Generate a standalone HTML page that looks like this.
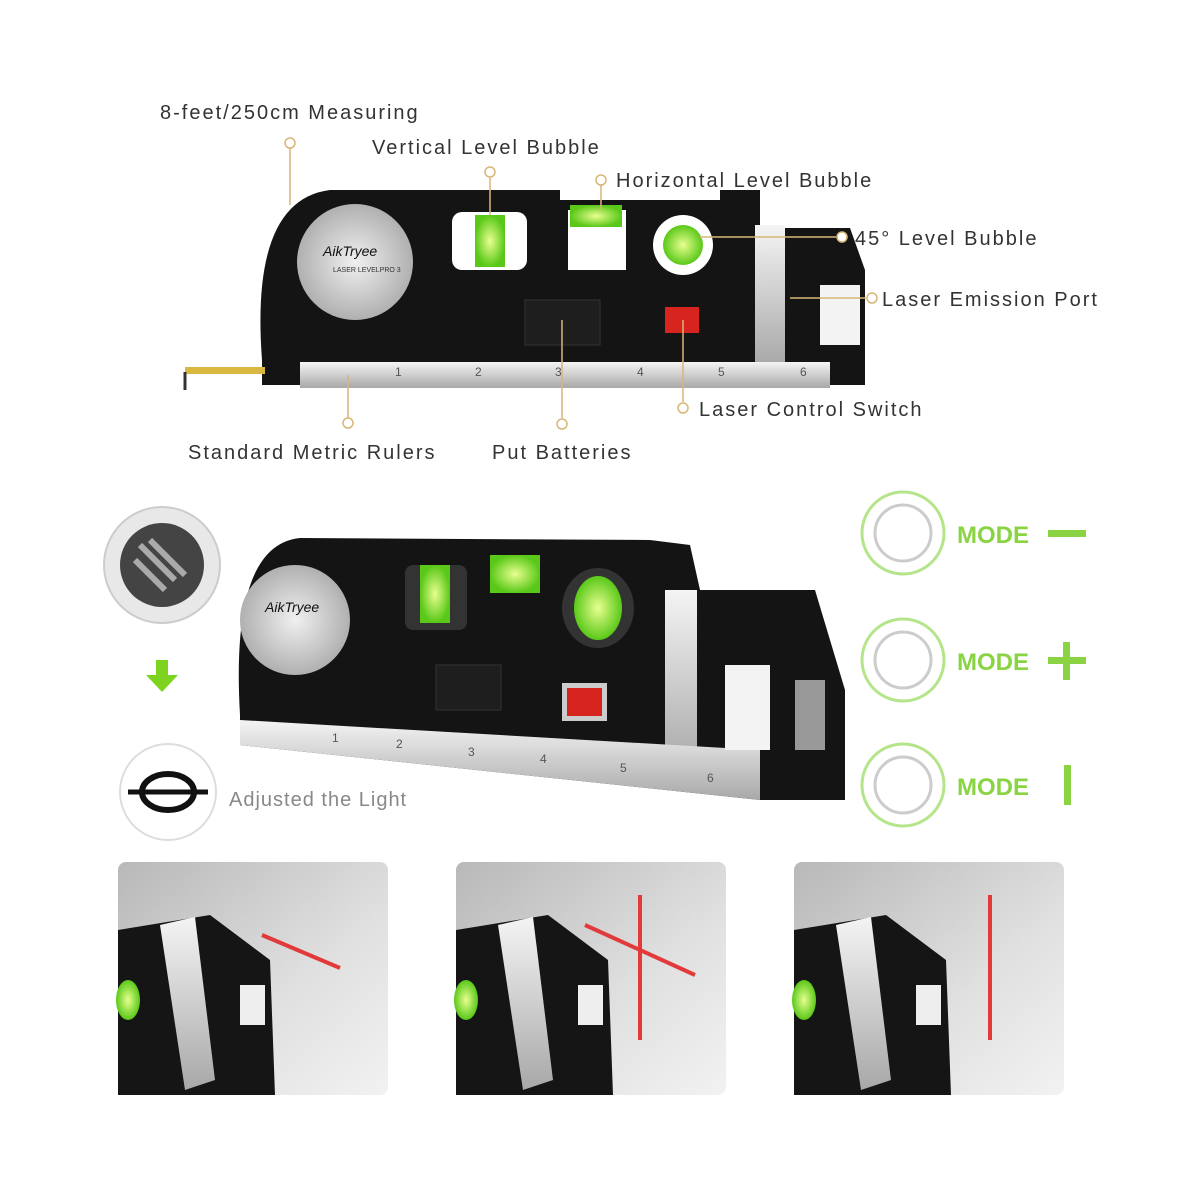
<!DOCTYPE html>
<html><head><meta charset="utf-8"><style>
html,body{margin:0;padding:0;background:#fff}
svg{display:block}
text{font-family:"Liberation Sans",sans-serif}
</style></head><body>
<svg width="1200" height="1200" viewBox="0 0 1200 1200" xmlns="http://www.w3.org/2000/svg">
<defs>
<linearGradient id="bg" x1="0" y1="0" x2="1" y2="1"><stop offset="0" stop-color="#b8b8b8"/><stop offset="0.6" stop-color="#e0e0e0"/><stop offset="1" stop-color="#f2f2f2"/></linearGradient>
<linearGradient id="sil" x1="0" y1="0" x2="0" y2="1"><stop offset="0" stop-color="#f4f4f4"/><stop offset="1" stop-color="#a8a8a8"/></linearGradient>
<radialGradient id="disc"><stop offset="0" stop-color="#f0f0f0"/><stop offset="1" stop-color="#b0b0b0"/></radialGradient>
<radialGradient id="grn"><stop offset="0" stop-color="#e8ff90"/><stop offset="1" stop-color="#5ac818"/></radialGradient>
</defs>
<g>
<path d="M262 360 Q250 200 330 190 L560 190 L560 200 L720 200 L720 190 L760 190 L760 228 L850 228 L865 270 L865 385 L262 385 Z" fill="#141414"/>
<rect x="755" y="225" width="30" height="140" fill="url(#sil)"/>
<rect x="300" y="362" width="530" height="26" fill="url(#sil)"/>
<g fill="#555" font-size="12"><text x="395" y="376">1</text><text x="475" y="376">2</text><text x="555" y="376">3</text><text x="637" y="376">4</text><text x="718" y="376">5</text><text x="800" y="376">6</text></g>
<circle cx="355" cy="262" r="58" fill="url(#disc)"/>
<text x="323" y="256" font-size="14" font-style="italic" fill="#111">AikTryee</text>
<text x="333" y="272" font-size="7" fill="#333">LASER LEVELPRO 3</text>
<rect x="452" y="212" width="75" height="58" rx="10" fill="#fff"/>
<rect x="475" y="215" width="30" height="52" fill="url(#grn)"/>
<rect x="568" y="210" width="58" height="60" fill="#fff"/>
<rect x="570" y="205" width="52" height="22" fill="url(#grn)"/>
<circle cx="683" cy="245" r="30" fill="#fff"/>
<circle cx="683" cy="245" r="20" fill="url(#grn)"/>
<rect x="525" y="300" width="75" height="45" fill="#1e1e1e" stroke="#333"/>
<rect x="665" y="307" width="34" height="26" fill="#d8241e"/>
<rect x="820" y="285" width="40" height="60" fill="#f3f3f3"/>
<rect x="185" y="367" width="80" height="7" fill="#d8b840"/>
<path d="M185 372 L185 390" stroke="#333" stroke-width="3"/>
</g>
<g stroke="#d9b677" stroke-width="1.5" fill="#fff">
<line x1="290" y1="148" x2="290" y2="205"/><circle cx="290" cy="143" r="5"/>
<line x1="490" y1="178" x2="490" y2="215"/><circle cx="490" cy="172" r="5"/>
<line x1="601" y1="185" x2="601" y2="210"/><circle cx="601" cy="180" r="5"/>
<line x1="700" y1="237" x2="836" y2="237"/><circle cx="842" cy="237" r="5"/>
<line x1="790" y1="298" x2="866" y2="298"/><circle cx="872" cy="298" r="5"/>
<line x1="683" y1="320" x2="683" y2="402"/><circle cx="683" cy="408" r="5"/>
<line x1="348" y1="375" x2="348" y2="418"/><circle cx="348" cy="423" r="5"/>
<line x1="562" y1="320" x2="562" y2="418"/><circle cx="562" cy="424" r="5"/>
</g>
<g font-size="20" fill="#333" letter-spacing="2">
<text x="160" y="119">8-feet/250cm Measuring</text>
<text x="372" y="154">Vertical Level Bubble</text>
<text x="616" y="187">Horizontal Level Bubble</text>
<text x="855" y="245">45° Level Bubble</text>
<text x="882" y="306">Laser Emission Port</text>
<text x="699" y="416">Laser Control Switch</text>
<text x="188" y="459">Standard Metric Rulers</text>
<text x="492" y="459">Put Batteries</text>
</g>
<g>
<path d="M240 715 Q230 545 300 538 L650 540 L690 545 L700 590 L815 590 L845 690 L845 800 L760 800 L240 745 Z" fill="#141414"/>
<rect x="665" y="590" width="32" height="180" fill="url(#sil)"/>
<path d="M240 720 L760 750 L760 800 L240 745 Z" fill="url(#sil)"/>
<g fill="#555" font-size="12"><text x="332" y="742">1</text><text x="396" y="748">2</text><text x="468" y="756">3</text><text x="540" y="763">4</text><text x="620" y="772">5</text><text x="707" y="782">6</text></g>
<circle cx="295" cy="620" r="55" fill="url(#disc)"/>
<text x="265" y="612" font-size="14" font-style="italic" fill="#111">AikTryee</text>
<rect x="405" y="565" width="62" height="65" rx="8" fill="#333"/>
<rect x="420" y="565" width="30" height="58" fill="url(#grn)"/>
<rect x="490" y="555" width="50" height="38" fill="url(#grn)"/>
<ellipse cx="598" cy="608" rx="36" ry="40" fill="#333"/>
<ellipse cx="598" cy="608" rx="24" ry="32" fill="url(#grn)"/>
<rect x="436" y="665" width="65" height="45" fill="#1e1e1e" stroke="#333"/>
<rect x="562" y="683" width="45" height="38" fill="#ccc"/><rect x="567" y="688" width="35" height="28" fill="#d8241e"/>
<rect x="725" y="665" width="45" height="85" fill="#f3f3f3"/>
<rect x="795" y="680" width="30" height="70" fill="#999"/>
</g>
<circle cx="162" cy="565" r="58" fill="#e8e8e8" stroke="#ccc" stroke-width="2"/>
<circle cx="162" cy="565" r="42" fill="#444"/>
<path d="M140 545 L175 580 M150 540 L185 575 M135 560 L165 590" stroke="#aaa" stroke-width="6"/>
<path d="M156 660 L168 660 L168 675 L178 675 L162 692 L146 675 L156 675 Z" fill="#7ed321"/>
<circle cx="168" cy="792" r="48" fill="none" stroke="#ddd" stroke-width="2"/>
<ellipse cx="168" cy="792" rx="26" ry="18" fill="none" stroke="#111" stroke-width="6"/>
<line x1="128" y1="792" x2="208" y2="792" stroke="#111" stroke-width="5"/>
<text x="229" y="806" font-size="20" fill="#888" letter-spacing="1">Adjusted the Light</text>
<g>
<circle cx="903" cy="533" r="41" fill="none" stroke="#b5e58a" stroke-width="3"/><circle cx="903" cy="533" r="28" fill="none" stroke="#ccc" stroke-width="3"/>
<circle cx="903" cy="660" r="41" fill="none" stroke="#b5e58a" stroke-width="3"/><circle cx="903" cy="660" r="28" fill="none" stroke="#ccc" stroke-width="3"/>
<circle cx="903" cy="785" r="41" fill="none" stroke="#b5e58a" stroke-width="3"/><circle cx="903" cy="785" r="28" fill="none" stroke="#ccc" stroke-width="3"/>
<g font-size="24" font-weight="bold" fill="#8ad444"><text x="957" y="543">MODE</text><text x="957" y="670">MODE</text><text x="957" y="795">MODE</text></g>
<rect x="1048" y="530" width="38" height="7" fill="#8ad444"/>
<rect x="1048" y="657" width="38" height="7" fill="#8ad444"/><rect x="1063" y="642" width="7" height="38" fill="#8ad444"/>
<rect x="1064" y="765" width="7" height="40" fill="#8ad444"/>
</g>
<g>
<rect x="118" y="862" width="270" height="233" rx="8" fill="url(#bg)"/>
<rect x="456" y="862" width="270" height="233" rx="8" fill="url(#bg)"/>
<rect x="794" y="862" width="270" height="233" rx="8" fill="url(#bg)"/>
<g id="dev">
<path d="M118 930 L210 915 L270 960 L275 1095 L118 1095 Z" fill="#151515"/>
<path d="M160 925 L195 917 L215 1080 L185 1090 Z" fill="url(#sil)"/>
<rect x="240" y="985" width="25" height="40" fill="#eee"/>
<ellipse cx="128" cy="1000" rx="12" ry="20" fill="url(#grn)"/>
</g>
<use href="#dev" x="338"/><use href="#dev" x="676"/>
<line x1="262" y1="935" x2="340" y2="968" stroke="#e23a3a" stroke-width="4"/>
<line x1="585" y1="925" x2="695" y2="975" stroke="#e23a3a" stroke-width="4"/>
<line x1="640" y1="895" x2="640" y2="1040" stroke="#e23a3a" stroke-width="4"/>
<line x1="990" y1="895" x2="990" y2="1040" stroke="#e23a3a" stroke-width="4"/>
</g>
</svg>
</body></html>
